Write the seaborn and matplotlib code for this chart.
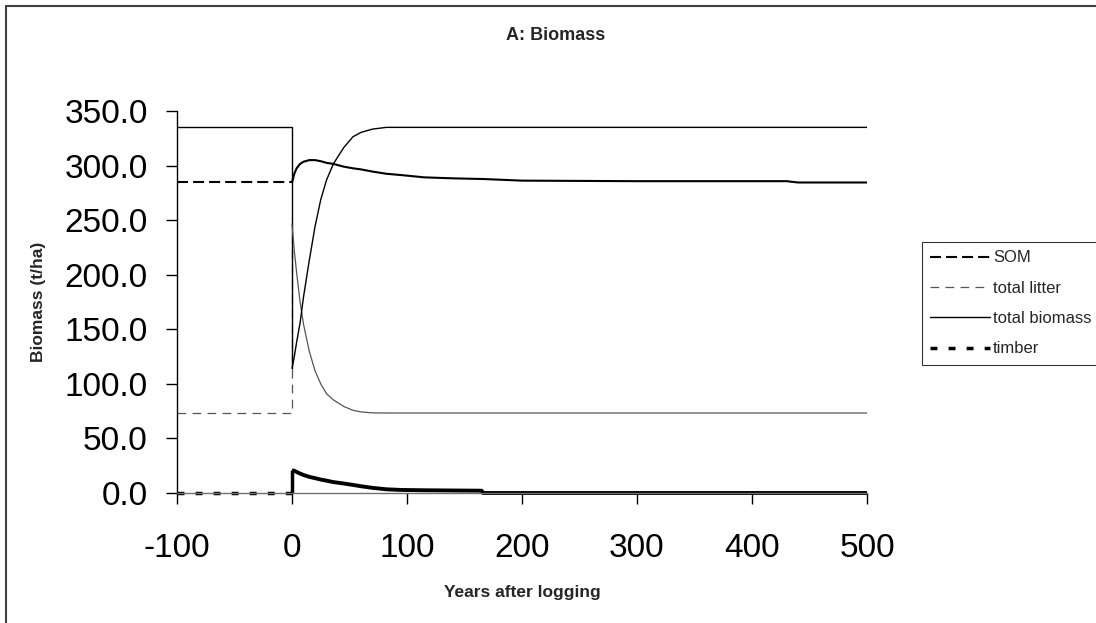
import matplotlib
matplotlib.use("Agg")
import matplotlib.pyplot as plt
from matplotlib.lines import Line2D
import seaborn as sns

# ---------------- data ----------------
# before logging (drawn with the series' dash pattern)
pre_x = [-100, 0]
som_pre = [284.5, 284.5]
litter_pre_x = [-100, 0, 0]
litter_pre = [73.3, 73.3, 247]
biomass_pre_x = [-100, 0, 0]
biomass_pre = [335, 335, 114]
timber_pre_x = [-100, 0, 0]
timber_pre = [0, 0, 21]

# after logging (dense yearly data in the original -> looks solid)
years = [0, 2, 4, 7, 10, 15, 20, 25, 30, 36, 45, 53, 60, 70, 82, 95,
         115, 140, 165, 166, 200, 300, 430, 440, 500]
som = [284.5, 292.5, 297.5, 301.5, 303.5, 305, 305, 304, 302.5, 301.5, 299,
       297.5, 296.5, 294.5, 292.5, 291.3, 289.2, 288.3, 287.7, 287.7, 286.2,
       285.7, 285.7, 284.5, 284.5]
litter = [247, 222, 202, 175.5, 154.7, 130, 112, 100, 91, 85.3, 79.3, 75.8,
          74.3, 73.4, 73.3, 73.3, 73.3, 73.3, 73.3, 73.3, 73.3, 73.3, 73.3,
          73.3, 73.3]
biomass = [114, 125, 138, 155.7, 179.5, 213, 244, 268.8, 286.7, 301.6, 316.5,
           326.4, 330.4, 333.4, 335, 335, 335, 335, 335, 335, 335, 335, 335,
           335, 335]
timber = [21, 20.3, 19.3, 17.8, 16.5, 14.8, 13.6, 12.3, 11.3, 10, 8.7, 7.4,
          6.2, 4.7, 3.4, 2.8, 2.5, 2.3, 2.1, 0, 0, 0, 0, 0, 0]

series_labels = ["SOM", "total litter", "total biomass", "timber"]
x_ticks = [-100, 0, 100, 200, 300, 400, 500]
y_ticks = [0, 50, 100, 150, 200, 250, 300, 350]

# ---------------- styling ----------------
sns.set_style("white")
plt.rcParams["font.family"] = ["Liberation Sans", "DejaVu Sans"]

W, H = 1096, 623
fig = plt.figure(figsize=(W / 100, H / 100), dpi=100)
L, R, T, B = 177, 867, 111, 493
ax = fig.add_axes([L / W, 1 - B / H, (R - L) / W, (B - T) / H])

black = "#000000"
litter_col = "#555555"

som_dash = (5.3, 2.4)
litter_dash = (7, 5)
timber_dash = (2, 3.2)

# pre-logging segments
sns.lineplot(x=pre_x, y=som_pre, ax=ax, color=black, lw=1.5,
             estimator=None, sort=False)
ax.lines[-1].set_dashes(som_dash)
sns.lineplot(x=litter_pre_x, y=litter_pre, ax=ax, color=litter_col, lw=0.9,
             estimator=None, sort=False)
ax.lines[-1].set_dashes(litter_dash)
sns.lineplot(x=biomass_pre_x, y=biomass_pre, ax=ax, color=black, lw=1.0,
             estimator=None, sort=False)
sns.lineplot(x=timber_pre_x[:2], y=timber_pre[:2], ax=ax, color=black, lw=2.5,
             estimator=None, sort=False)
ax.lines[-1].set_dashes(timber_dash)
sns.lineplot(x=timber_pre_x[1:], y=timber_pre[1:], ax=ax, color=black, lw=2.5,
             estimator=None, sort=False)

# post-logging curves
sns.lineplot(x=years, y=litter, ax=ax, color=litter_col, lw=0.9, estimator=None, sort=False)
sns.lineplot(x=years, y=biomass, ax=ax, color=black, lw=1.0, estimator=None, sort=False)
sns.lineplot(x=years, y=som, ax=ax, color=black, lw=1.5, estimator=None, sort=False)
sns.lineplot(x=years, y=timber, ax=ax, color=black, lw=2.8, estimator=None, sort=False)
for ln in ax.lines:
    ln.set_clip_on(False)
    ln.set_solid_capstyle("butt")

ax.set_xlim(-100, 500)
ax.set_ylim(0, 350)
ax.set_xticks(x_ticks)
ax.set_yticks(y_ticks)
ax.set_xticklabels([str(v) for v in x_ticks])
ax.set_yticklabels([f"{v:.1f}" for v in y_ticks])
ax.tick_params(axis="both", labelsize=24, length=8, width=1, direction="out",
               colors="#000000", left=True, bottom=True)
ax.tick_params(axis="x", pad=21)
ax.tick_params(axis="y", pad=13)
for s in ["top", "right"]:
    ax.spines[s].set_visible(False)
ax.spines["left"].set_color("#000000")
ax.spines["left"].set_linewidth(1)
ax.spines["bottom"].set_color("#707070")
ax.spines["bottom"].set_linewidth(1)
ax.grid(False)

ax.set_xlabel("Years after logging", fontsize=12.5, fontweight="bold")
ax.set_ylabel("Biomass (t/ha)", fontsize=12.5, fontweight="bold")
ax.xaxis.set_label_coords(0.5, (B - 592) / (B - T), transform=ax.transAxes)
ax.yaxis.set_label_coords((39 - L) / (R - L), 0.5)
ax.xaxis.label.set_va("center")
ax.yaxis.label.set_va("center")

fig.text(556 / W, 1 - 36 / H, "A: Biomass", fontsize=13, fontweight="bold",
         ha="center", va="center")

# legend
handles = [
    Line2D([], [], color=black, lw=1.5, dashes=som_dash),
    Line2D([], [], color=litter_col, lw=0.9, dashes=litter_dash),
    Line2D([], [], color=black, lw=1.0),
    Line2D([], [], color=black, lw=2.5, dashes=timber_dash),
]
leg = fig.legend(handles, series_labels, loc="upper left",
                 bbox_to_anchor=(922 / W, 1 - 242 / H), bbox_transform=fig.transFigure,
                 fontsize=12, frameon=True, fancybox=False, edgecolor="#000000",
                 borderpad=0.5, labelspacing=0.92, handlelength=3.6,
                 handletextpad=0.15, borderaxespad=0)
leg.get_frame().set_linewidth(0.8)

# chart-area border (left and top visible)
fig.add_artist(Line2D([6 / W, 6 / W], [0, 1 - 6 / H], transform=fig.transFigure,
                      color="#404040", lw=1.5))
fig.add_artist(Line2D([6 / W, 1], [1 - 6 / H, 1 - 6 / H], transform=fig.transFigure,
                      color="#404040", lw=1.5))

fig.savefig("out.png", dpi=100, facecolor="white")
